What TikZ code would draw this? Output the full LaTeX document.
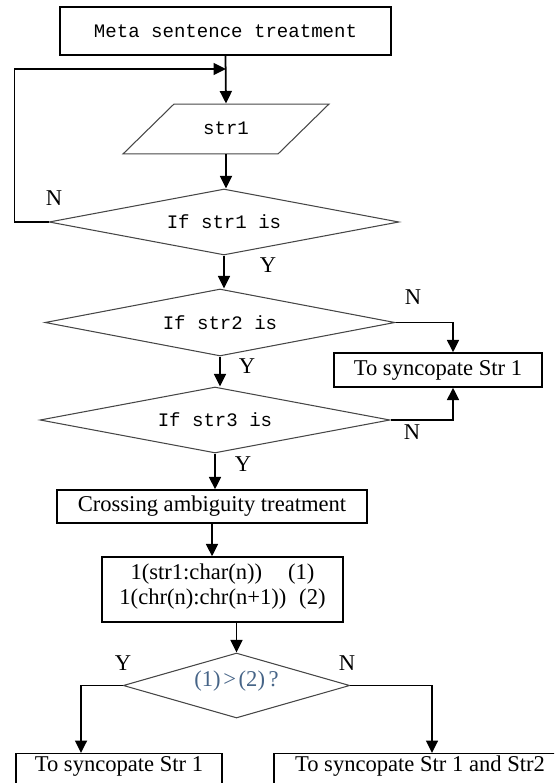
\documentclass[tikz,border=0pt]{standalone}
\usepackage{fontspec}
\setmainfont{Liberation Serif}
\setmonofont{Liberation Mono}
\usetikzlibrary{shapes.geometric,arrows.meta,positioning}
\definecolor{edgegray}{RGB}{70,70,70}
\definecolor{cmpblue}{RGB}{70,100,135}

\begin{document}
\begin{tikzpicture}[x=0.02cm, y=-0.02cm,
    procbox/.style={rectangle, draw=black, line width=0.8pt, inner sep=0pt,
        font=\fontsize{12.85}{13}\selectfont},
    codebox/.style={rectangle, draw=black, line width=0.8pt, inner sep=0pt,
        font=\fontsize{10.85}{13}\selectfont\ttfamily},
    iobox/.style={trapezium, trapezium left angle=44.4, trapezium right angle=135.6,
        trapezium stretches body, draw=edgegray, line width=0.6pt,
        inner xsep=0pt, inner ysep=9.2pt, text height=8pt, text depth=2pt,
        font=\fontsize{10.85}{13}\selectfont\ttfamily},
    decide/.style={diamond, aspect=5, draw=edgegray, line width=0.6pt, inner sep=0pt,
        font=\fontsize{10.85}{13}\selectfont\ttfamily},
    yn/.style={inner sep=0pt, font=\fontsize{12.85}{13}\selectfont},
    arr/.style={-{Triangle[length=2.5mm, width=2.4mm]}, line width=1pt, black}
]
    \useasboundingbox (0,0) rectangle (554,783);
    \clip (0,0) rectangle (554,783);

    % Main column
    \node[codebox, minimum width=6.62cm, minimum height=0.96cm] (meta) at (225.5,31) {Meta sentence treatment};
    \node[iobox, minimum width=4.12cm] (para) at (226,129) {str1};
    \node[decide, minimum width=7.0cm, minimum height=1.32cm] (d1) at (224,222) {If str1 is};
    \node[decide, minimum width=7.0cm, minimum height=1.34cm] (d2) at (220,322.5) {If str2 is};
    \node[decide, minimum width=7.0cm, minimum height=1.32cm] (d3) at (215,420) {If str3 is};
    \node[procbox, minimum width=6.2cm, minimum height=0.66cm] (cross) at (212,506.5) {Crossing ambiguity treatment};
    \node[procbox, minimum width=4.82cm, minimum height=1.3cm] (calc) at (222.5,589.5) {};
    \node[procbox, draw=none, anchor=north, inner xsep=2pt, inner ysep=3.7pt, align=center,
        font=\fontsize{12.85}{14.4}\selectfont] (calctext) at (calc.north)
        {1(str1:char(n))\hspace{1.15em}(1)\\1(chr(n):chr(n+1))\hspace{0.57em}(2)};
    \node[decide, minimum width=4.52cm, minimum height=1.3cm, text=cmpblue,
        text height=8.9pt, text depth=7.3pt,
        font=\fontsize{12.85}{13}\selectfont] (d4) at (236.5,685.5) {(1)\kern1.5pt>\kern1.5pt(2)\kern2pt?};

    % Side and final boxes
    \node[procbox, minimum width=4.16cm, minimum height=0.68cm] (syn) at (438,370) {To syncopate Str 1};
    \node[procbox, anchor=north, minimum width=4.12cm, inner ysep=1pt, text height=9pt, text depth=14pt] (fin1) at (119,753) {To syncopate Str 1};
    \node[procbox, anchor=north, minimum width=5.84cm, inner ysep=1pt, text height=9pt, text depth=14pt] (fin2) at (420,753) {To syncopate Str 1 and Str2};

    % Y / N marks
    \node[yn] (n1) at (54,198) {N};
    \node[yn] (y1) at (268,265) {Y};
    \node[yn] (n2) at (413,297) {N};
    \node[yn] (y2) at (247,366) {Y};
    \node[yn] (n3) at (412,432) {N};
    \node[yn] (y3) at (243,464) {Y};
    \node[yn] (y4) at (123,663) {Y};
    \node[yn] (n4) at (347,663) {N};

    % Flow
    \coordinate (loopin) at (226,69);
    \draw[arr] (meta.south) -- (para.north);
    \draw[arr] (d1.west) -- ++(-34,0) |- (loopin);
    \draw[arr] (para.south) -- (para.south |- d1.north);
    \draw[arr] (d1.south) -- (d1.south |- d2.north);
    \draw[arr] (d2.south) -- (d2.south |- d3.north);
    \draw[arr] (d3.south) -- (d3.south |- cross.north);
    \draw[arr] (cross.south) -- (cross.south |- calc.north);
    \draw[arr] (d4.north |- calc.south) -- (d4.north);

    \draw[arr] (d2.east) -| ([xshift=0.3cm]syn.north);
    \draw[arr] (d3.east) -| ([xshift=0.3cm]syn.south);
    \draw[arr] (d4.west) -| ([xshift=-0.76cm]fin1.north);
    \draw[arr] (d4.east) -| ([xshift=0.24cm]fin2.north);
\end{tikzpicture}
\end{document}
